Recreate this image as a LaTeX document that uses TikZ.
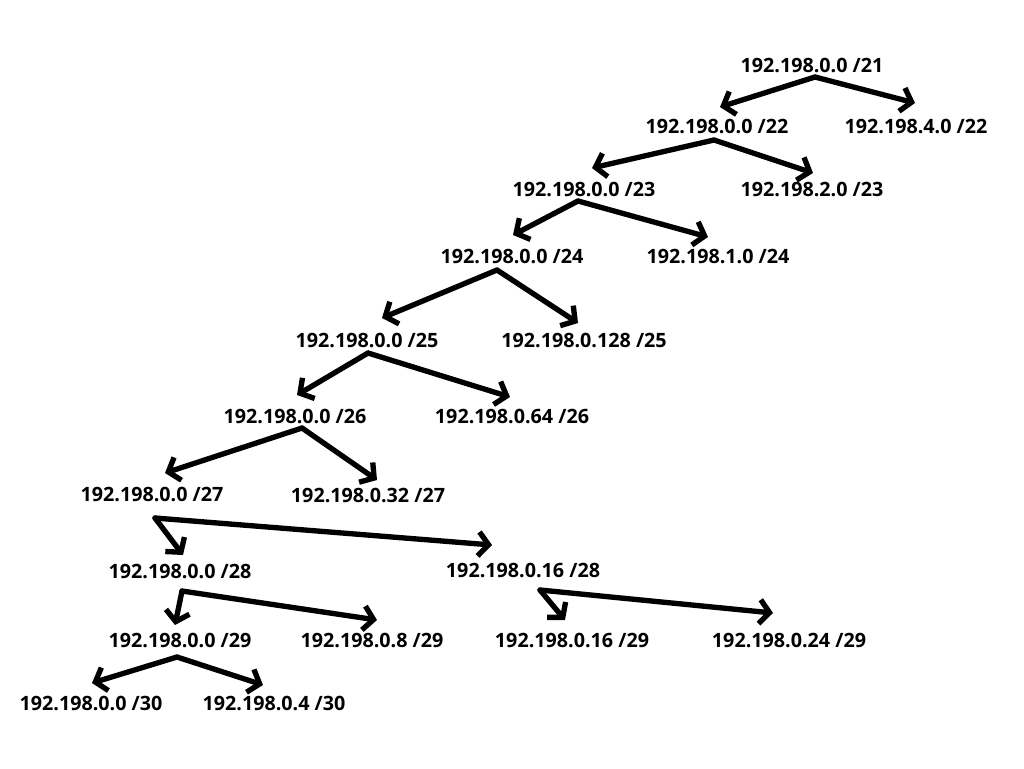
\documentclass[tikz,border=0pt]{standalone}
\usepackage{fontspec}
\setmainfont{Open Sans}
\usetikzlibrary{arrows.meta,calc}
\tikzset{
  lbl/.style={font=\fontsize{14.8}{18}\selectfont\bfseries, inner sep=0pt, anchor=center},
  arr/.style={line width=4pt, line cap=round, line join=round, -{Straight Barb[length=7.5pt,width=18pt,line width=4pt]}}
}
\begin{document}
\begin{tikzpicture}[x=0.75pt,y=-0.75pt]
\fill[white] (0,0) rectangle (1024,768);
\useasboundingbox (0,0) rectangle (1024,768);
\node[lbl] (n21) at (812,65) {192.198.0.0 /21};
\node[lbl] (n22a) at (717,126) {192.198.0.0 /22};
\node[lbl] (n22b) at (916,126) {192.198.4.0 /22};
\node[lbl] (n23a) at (584,189) {192.198.0.0 /23};
\node[lbl] (n23b) at (812,189) {192.198.2.0 /23};
\node[lbl] (n24a) at (512,256) {192.198.0.0 /24};
\node[lbl] (n24b) at (718,256) {192.198.1.0 /24};
\node[lbl] (n25a) at (367,340) {192.198.0.0 /25};
\node[lbl] (n25b) at (584,340) {192.198.0.128 /25};
\node[lbl] (n26a) at (295,416) {192.198.0.0 /26};
\node[lbl] (n26b) at (512,416) {192.198.0.64 /26};
\node[lbl] (n27a) at (152,494) {192.198.0.0 /27};
\node[lbl] (n27b) at (368,495) {192.198.0.32 /27};
\node[lbl] (n28a) at (180,571) {192.198.0.0 /28};
\node[lbl] (n28b) at (523,570) {192.198.0.16 /28};
\node[lbl] (n29a) at (180,640) {192.198.0.0 /29};
\node[lbl] (n29b) at (372,640) {192.198.0.8 /29};
\node[lbl] (n29c) at (572,640) {192.198.0.16 /29};
\node[lbl] (n29d) at (789,640) {192.198.0.24 /29};
\node[lbl] (n30a) at (91,703) {192.198.0.0 /30};
\node[lbl] (n30b) at (274,703) {192.198.0.4 /30};
% connectors
\draw[arr] ($(n21)+(3,12)$) -- ($(n22a)+(3,-19)$);
\draw[arr] ($(n21)+(3,12)$) -- ($(n22b)+(-1,-23)$);
\draw[arr] ($(n22a)+(-3,14)$) -- ($(n23a)+(8,-21)$);
\draw[arr] ($(n22a)+(-3,14)$) -- ($(n23b)+(1,-16)$);
\draw[arr] ($(n23a)+(-6,12)$) -- ($(n24a)+(1,-21)$);
\draw[arr] ($(n23a)+(-6,12)$) -- ($(n24b)+(-10,-19)$);
\draw[arr] ($(n24a)+(-15,14)$) -- ($(n25a)+(15,-22)$);
\draw[arr] ($(n24a)+(-15,14)$) -- ($(n25b)+(-6,-17)$);
\draw[arr] ($(n25a)+(1,13)$) -- ($(n26a)+(2,-21)$);
\draw[arr] ($(n25a)+(1,13)$) -- ($(n26b)+(-2,-19)$);
\draw[arr] ($(n26a)+(7,12)$) -- ($(n27a)+(13,-21)$);
\draw[arr] ($(n26a)+(7,12)$) -- ($(n27b)+(9,-15)$);
\draw[arr] ($(n27a)+(3,24)$) -- ($(n28a)+(3,-16)$);
\draw[arr] ($(n27a)+(3,24)$) -- ($(n28b)+(-31,-25)$);
\draw[arr] ($(n28a)+(2,20)$) -- ($(n29a)+(-5,-15)$);
\draw[arr] ($(n28a)+(2,20)$) -- ($(n29b)+(5,-20)$);
\draw[arr] ($(n28b)+(17,20)$) -- ($(n29c)+(-7,-20)$);
\draw[arr] ($(n28b)+(17,20)$) -- ($(n29d)+(-16,-27)$);
\draw[arr] ($(n29a)+(-3,17)$) -- ($(n30a)+(1,-20)$);
\draw[arr] ($(n29a)+(-3,17)$) -- ($(n30b)+(-11,-18)$);
\end{tikzpicture}
\end{document}
